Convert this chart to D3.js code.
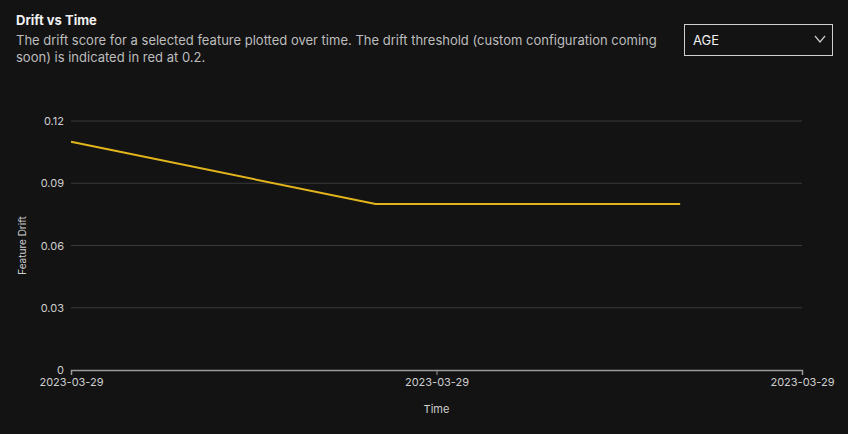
<!DOCTYPE html>
<html>
<head>
<meta charset="utf-8">
<script src="https://cdn.jsdelivr.net/npm/d3@7"></script>
<style>
  body { margin: 0; background: #131313; font-family: Inter, "Noto Sans", sans-serif; }
  #chart { position: relative; width: 848px; height: 434px; }
  .title { position: absolute; left: 16px; top: 12px; color: #f0f0f0; font-size: 13px; font-weight: 700; }
  .desc { position: absolute; left: 16px; top: 32px; width: 645px; color: #bdbdbd; font-size: 13px; line-height: 17px; }
  .select { position: absolute; left: 684px; top: 24px; width: 149px; height: 32px; border: 1px solid #d0d0d0; box-sizing: border-box; color: #f0f0f0; font-size: 13px; line-height: 30px; padding-left: 8px; }
  .select svg { position: absolute; right: 6px; top: 9px; }
</style>
</head>
<body>
<div id="chart">
  <div class="title">Drift vs Time</div>
  <div class="desc">The drift score for a selected feature plotted over time. The drift threshold (custom configuration coming soon) is indicated in red at 0.2.</div>
  <div class="select">AGE<svg width="12" height="10"><path d="M1,2 L6,8 L11,2" fill="none" stroke="#ccc" stroke-width="1.2"/></svg></div>
</div>
<script>
const timeSteps = [0, 1, 2];
const driftValues = [0.11, 0.08, 0.08];
const xTickPositions = [0, 1.2, 2.4];
const xTickLabels = ["2023-03-29", "2023-03-29", "2023-03-29"];
const yTicks = [0, 0.03, 0.06, 0.09, 0.12];

const width = 848, height = 434;
const margin = { left: 71, right: 46, top: 121, bottom: 64 };

const svg = d3.select("#chart")
    .append("svg")
    .attr("width", width)
    .attr("height", height)
    .style("position", "absolute")
    .style("left", 0)
    .style("top", 0);

const x = d3.scaleLinear().domain([0, 2.4]).range([margin.left, width - margin.right]);
const y = d3.scaleLinear().domain([0, 0.12]).range([height - margin.bottom, margin.top]);

// grid
svg.append("g")
    .selectAll("line.grid")
    .data(yTicks.filter(d => d > 0))
    .enter()
    .append("line")
    .attr("class", "grid")
    .attr("x1", x(0)).attr("x2", x(2.4))
    .attr("y1", d => y(d)).attr("y2", d => y(d))
    .attr("stroke", "#3a3a3a");

// y axis labels
svg.append("g")
    .attr("transform", `translate(${margin.left},0)`)
    .call(d3.axisLeft(y).tickValues(yTicks).tickFormat(d => d === 0 ? "0" : d3.format(".2f")(d)).tickSize(0).tickPadding(7))
    .call(g => g.select(".domain").remove())
    .selectAll("text")
    .attr("fill", "#cfcfcf")
    .style("font-size", "11px")
    .style("font-family", "Inter, sans-serif");

// x axis
const xAxis = svg.append("g")
    .attr("transform", `translate(0,${y(0)})`)
    .call(d3.axisBottom(x).tickValues(xTickPositions).tickFormat((d, i) => xTickLabels[i]).tickSize(5).tickPadding(3));
xAxis.select(".domain").attr("stroke", "#9a9a9a").attr("stroke-width", 1.5);
xAxis.selectAll(".tick line").attr("stroke", "#9a9a9a");
xAxis.selectAll("text")
    .attr("fill", "#cfcfcf")
    .style("font-size", "11px")
    .style("font-family", "Inter, sans-serif");

// axis titles
svg.append("text")
    .attr("x", x(1.2)).attr("y", 413)
    .attr("text-anchor", "middle")
    .attr("fill", "#cfcfcf")
    .style("font-size", "11px")
    .text("Time");
svg.append("text")
    .attr("transform", `translate(26,${y(0.06)}) rotate(-90)`)
    .attr("text-anchor", "middle")
    .attr("fill", "#cfcfcf")
    .style("font-size", "10px")
    .text("Feature Drift");

// line
const line = d3.line().x((d, i) => x(timeSteps[i])).y(d => y(d));
svg.append("path")
    .datum(driftValues)
    .attr("d", line)
    .attr("fill", "none")
    .attr("stroke", "#e2b51c")
    .attr("stroke-width", 2);
</script>
</body>
</html>
